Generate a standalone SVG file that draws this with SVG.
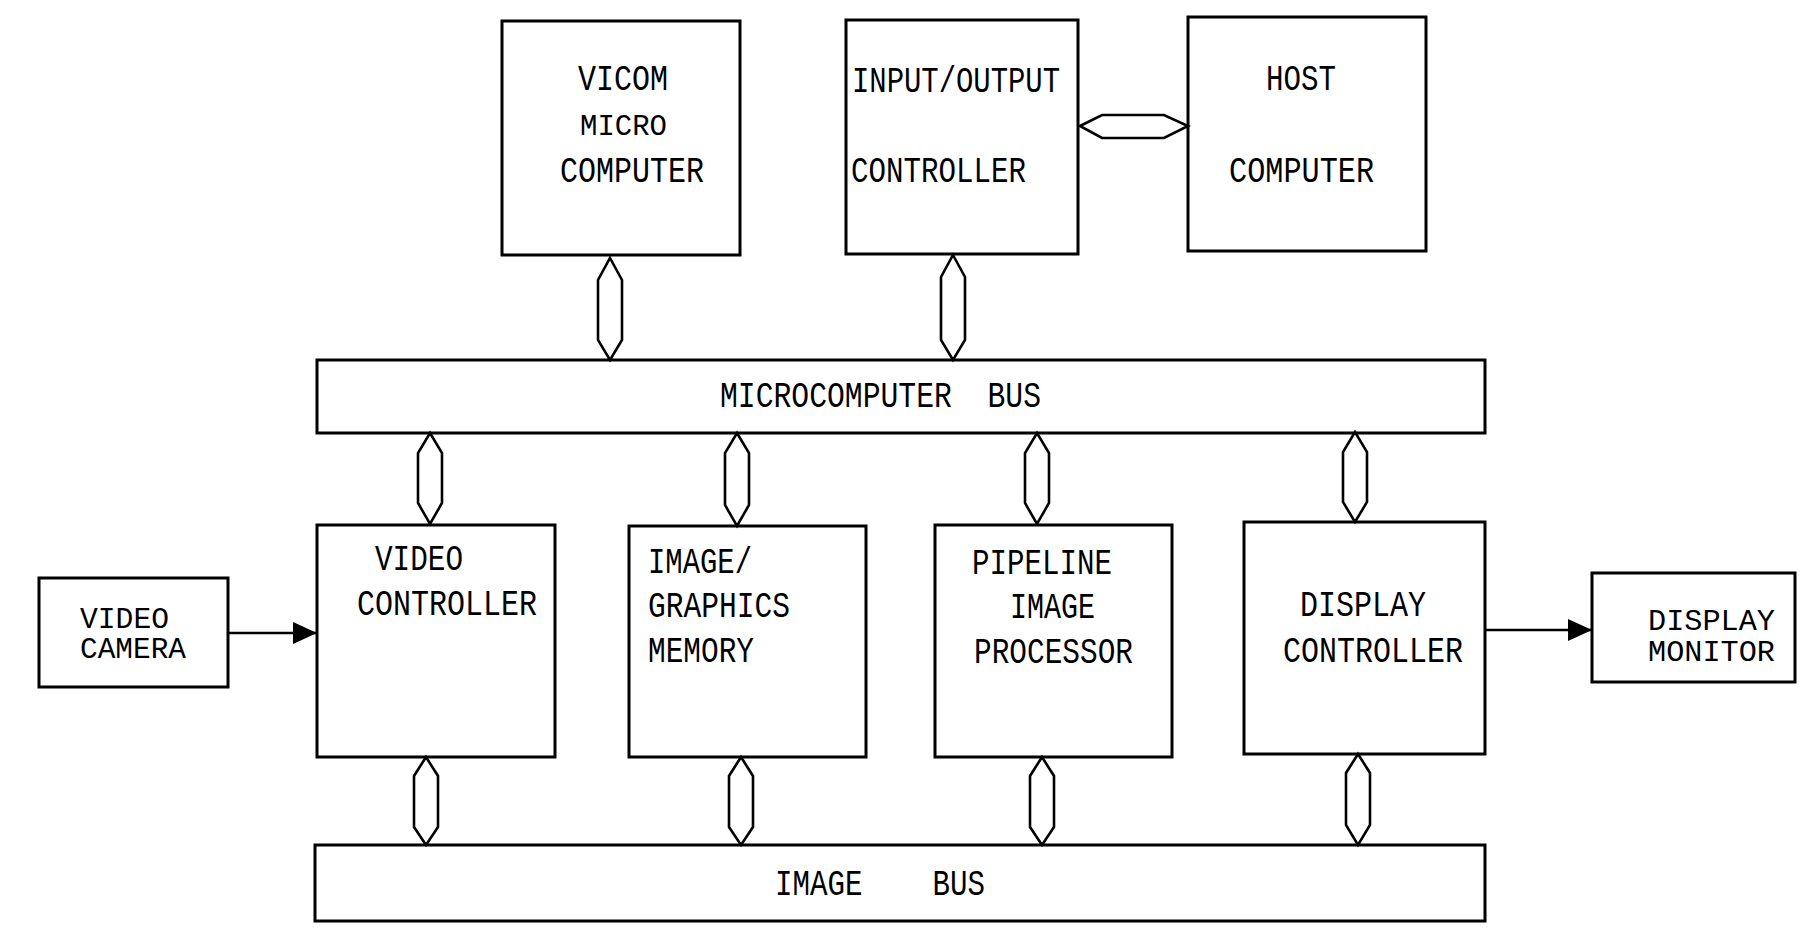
<svg xmlns="http://www.w3.org/2000/svg" width="1815" height="947" viewBox="0 0 1815 947">
<style>
.box{fill:#fff;stroke:#000;stroke-width:3}
.bus{fill:#fff;stroke:#000;stroke-width:2.6;stroke-linejoin:miter}
.ln{fill:none;stroke:#000;stroke-width:2.6}
.t{font-family:"Liberation Mono","DejaVu Sans Mono",monospace;font-size:36px;fill:#000;white-space:pre}
.s{font-size:29px}
</style>
<defs>
<marker id="ah" viewBox="0 0 24 22" refX="24" refY="11" markerWidth="24" markerHeight="22" markerUnits="userSpaceOnUse" orient="auto">
<path d="M0,0 L24,11 L0,22 Z" fill="#000"/>
</marker>
</defs>
<rect width="1815" height="947" fill="#fff"/>
<g id="vicom">
<rect class="box" x="502" y="21" width="238" height="234"/>
<text class="t" x="578" y="90" textLength="90" lengthAdjust="spacingAndGlyphs">VICOM</text>
<text class="t s" x="580" y="135" textLength="87" lengthAdjust="spacingAndGlyphs">MICRO</text>
<text class="t" x="560" y="182" textLength="144" lengthAdjust="spacingAndGlyphs">COMPUTER</text>
</g>
<g id="io">
<rect class="box" x="846" y="20" width="232" height="234"/>
<text class="t" x="852" y="92" textLength="208" lengthAdjust="spacingAndGlyphs">INPUT/OUTPUT</text>
<text class="t" x="851" y="182" textLength="175" lengthAdjust="spacingAndGlyphs">CONTROLLER</text>
</g>
<g id="host">
<rect class="box" x="1188" y="17" width="238" height="234"/>
<text class="t" x="1266" y="90" textLength="70" lengthAdjust="spacingAndGlyphs">HOST</text>
<text class="t" x="1229" y="182" textLength="145" lengthAdjust="spacingAndGlyphs">COMPUTER</text>
</g>
<g id="microbus">
<rect class="box" x="317" y="360" width="1168" height="73"/>
<text class="t" x="720" y="407" textLength="321" lengthAdjust="spacingAndGlyphs" xml:space="preserve">MICROCOMPUTER  BUS</text>
</g>
<g id="videocamera">
<rect class="box" x="39" y="578" width="189" height="109"/>
<text class="t s" x="80" y="628" textLength="89" lengthAdjust="spacingAndGlyphs">VIDEO</text>
<text class="t s" x="80" y="658" textLength="106" lengthAdjust="spacingAndGlyphs">CAMERA</text>
</g>
<g id="videocontroller">
<rect class="box" x="317" y="525" width="238" height="232"/>
<text class="t" x="375" y="570" textLength="88" lengthAdjust="spacingAndGlyphs">VIDEO</text>
<text class="t" x="357" y="615" textLength="180" lengthAdjust="spacingAndGlyphs">CONTROLLER</text>
</g>
<g id="memory">
<rect class="box" x="629" y="526" width="237" height="231"/>
<text class="t" x="648" y="573" textLength="104" lengthAdjust="spacingAndGlyphs">IMAGE/</text>
<text class="t" x="648" y="617" textLength="142" lengthAdjust="spacingAndGlyphs">GRAPHICS</text>
<text class="t" x="648" y="662" textLength="106" lengthAdjust="spacingAndGlyphs">MEMORY</text>
</g>
<g id="pipeline">
<rect class="box" x="935" y="525" width="237" height="232"/>
<text class="t" x="972" y="574" textLength="140" lengthAdjust="spacingAndGlyphs">PIPELINE</text>
<text class="t" x="1010" y="618" textLength="85" lengthAdjust="spacingAndGlyphs">IMAGE</text>
<text class="t" x="974" y="663" textLength="159" lengthAdjust="spacingAndGlyphs">PROCESSOR</text>
</g>
<g id="displaycontroller">
<rect class="box" x="1244" y="522" width="241" height="232"/>
<text class="t" x="1300" y="616" textLength="126" lengthAdjust="spacingAndGlyphs">DISPLAY</text>
<text class="t" x="1283" y="662" textLength="180" lengthAdjust="spacingAndGlyphs">CONTROLLER</text>
</g>
<g id="displaymonitor">
<rect class="box" x="1592" y="573" width="203" height="109"/>
<text class="t s" x="1648" y="630" textLength="127" lengthAdjust="spacingAndGlyphs">DISPLAY</text>
<text class="t s" x="1648" y="661" textLength="127" lengthAdjust="spacingAndGlyphs">MONITOR</text>
</g>
<g id="imagebus">
<rect class="box" x="315" y="845" width="1170" height="76"/>
<text class="t" x="775" y="895" textLength="210" lengthAdjust="spacingAndGlyphs" xml:space="preserve">IMAGE    BUS</text>
</g>
<g id="connectors">
<path class="bus" d="M610,258 L622,280 L622,340 L610,360 L598,340 L598,280 Z"/>
<path class="bus" d="M953,255 L965,277 L965,340 L953,360 L941,340 L941,277 Z"/>
<path class="bus" d="M1080,126 L1102,115 L1164,115 L1188,126 L1164,138 L1102,138 Z"/>
<path class="bus" d="M430,433 L442,453 L442,503 L430,524 L418,503 L418,453 Z"/>
<path class="bus" d="M737,433 L749,453 L749,505 L737,526 L725,505 L725,453 Z"/>
<path class="bus" d="M1037,433 L1049,453 L1049,503 L1037,524 L1025,503 L1025,453 Z"/>
<path class="bus" d="M1355,432 L1367,452 L1367,502 L1355,522 L1343,502 L1343,452 Z"/>
<path class="bus" d="M426,757 L438,776 L438,827 L426,845 L414,827 L414,776 Z"/>
<path class="bus" d="M741,757 L753,776 L753,827 L741,845 L729,827 L729,776 Z"/>
<path class="bus" d="M1042,757 L1054,776 L1054,827 L1042,845 L1030,827 L1030,776 Z"/>
<path class="bus" d="M1358,754 L1370,773 L1370,825 L1358,845 L1346,825 L1346,773 Z"/>
<line class="ln" x1="228" y1="633" x2="317" y2="633" marker-end="url(#ah)"/>
<line class="ln" x1="1485" y1="630" x2="1592" y2="630" marker-end="url(#ah)"/>
</g>
</svg>
